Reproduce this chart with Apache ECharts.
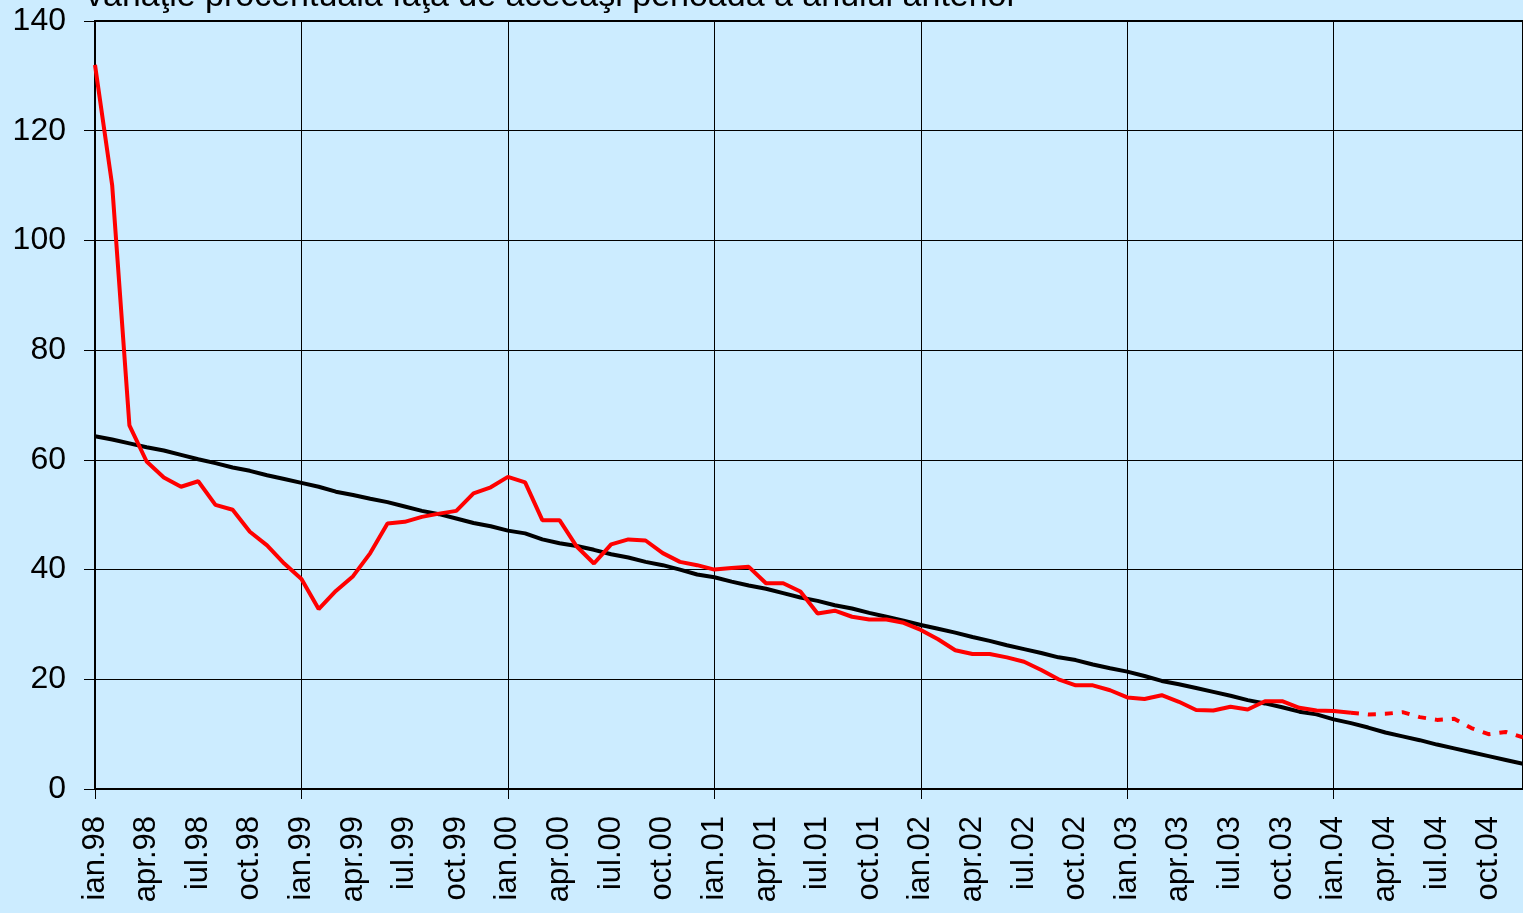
<!DOCTYPE html>
<html>
<head>
<meta charset="utf-8">
<script src="https://cdn.jsdelivr.net/npm/echarts@6/dist/echarts.min.js"></script>
<style>
  html, body { margin: 0; padding: 0; background: #ccecff; }
  #chart { width: 1523px; height: 913px; }
</style>
</head>
<body>
<div id="chart"></div>
<script>
// luni si ani pentru axa x (ian.98 - dec.04)
const monthNames = ["ian", "feb", "mar", "apr", "mai", "iun", "iul", "aug", "sep", "oct", "nov", "dec"];
const years = ["98", "99", "00", "01", "02", "03", "04"];

// rata anuala a inflatiei, realizari (ian.98 - feb.04)
const actual = [
  132.0, 110.0, 66.3, 59.7, 56.8, 55.1, 56.1, 51.8, 50.9, 46.9, 44.4, 41.1,
  38.3, 32.8, 36.1, 38.8, 43.0, 48.4, 48.7, 49.6, 50.2, 50.7, 53.9, 55.0,
  56.9, 55.9, 49.0, 49.0, 44.2, 41.1, 44.6, 45.5, 45.3, 43.0, 41.4, 40.8,
  40.0, 40.3, 40.5, 37.5, 37.5, 36.0, 32.0, 32.5, 31.4, 30.9, 30.9, 30.3,
  29.0, 27.3, 25.3, 24.6, 24.6, 24.0, 23.2, 21.7, 20.0, 18.9, 18.9, 18.0,
  16.7, 16.4, 17.1, 15.9, 14.4, 14.3, 15.0, 14.5, 16.0, 16.0, 14.8, 14.3,
  14.2, 13.9
];

// prognoza (feb.04 - dec.04)
const forecastStart = 73;
const forecast = [13.9, 13.6, 13.7, 14.0, 13.1, 12.6, 12.8, 11.1, 10.0, 10.4, 9.4];

// trend de dezinflatie
const trend = [
  64.3, 63.7, 63.0, 62.3, 61.7, 60.9, 60.1, 59.4, 58.6, 58.0, 57.2, 56.5,
  55.8, 55.1, 54.2, 53.6, 52.9, 52.3, 51.5, 50.7, 50.1, 49.3, 48.5, 47.9,
  47.1, 46.6, 45.5, 44.8, 44.3, 43.6, 42.8, 42.2, 41.4, 40.8, 40.0, 39.1,
  38.6, 37.8, 37.1, 36.5, 35.7, 34.9, 34.3, 33.5, 32.9, 32.1, 31.4, 30.7,
  29.9, 29.2, 28.5, 27.7, 27.0, 26.2, 25.5, 24.8, 24.0, 23.5, 22.7, 22.0,
  21.4, 20.6, 19.7, 19.1, 18.4, 17.7, 17.0, 16.2, 15.6, 14.9, 14.1, 13.6,
  12.7, 12.0, 11.2, 10.3, 9.6, 8.9, 8.1, 7.4, 6.7, 6.0, 5.3, 4.6
];

const yTicks = { min: 0, max: 140, interval: 20 };
const title = "variaţie procentuală faţă de aceeaşi perioadă a anului anterior";

const categories = [];
years.forEach((y) => monthNames.forEach((m) => categories.push(m + "." + y)));

const forecastData = categories.map((_, i) =>
  i >= forecastStart && i - forecastStart < forecast.length ? forecast[i - forecastStart] : null
);

const font = "'Liberation Sans', Arial, sans-serif";
const isYearStart = (index) => index % 12 === 0;

const chart = echarts.init(document.getElementById("chart"));
chart.setOption({
  backgroundColor: "#ccecff",
  animation: false,
  textStyle: { fontFamily: font },
  graphic: [
    {
      type: "text",
      left: 86,
      top: -20,
      style: { text: title, fontSize: 34, fontFamily: font, fill: "#000" },
    },
  ],
  grid: {
    left: 95,
    right: 0,
    top: 21,
    bottom: 124,
    show: true,
    borderColor: "#000",
    borderWidth: 2,
    backgroundColor: "transparent",
  },
  xAxis: {
    type: "category",
    boundaryGap: false,
    data: categories,
    axisLine: { lineStyle: { color: "#000", width: 2 } },
    axisTick: { interval: isYearStart, length: 10, lineStyle: { color: "#000", width: 1 } },
    axisLabel: {
      interval: 2,
      rotate: 90,
      margin: 27,
      fontSize: 31,
      color: "#000",
      fontFamily: font,
    },
    splitLine: { show: true, interval: isYearStart, lineStyle: { color: "#000", width: 1 } },
  },
  yAxis: {
    type: "value",
    min: yTicks.min,
    max: yTicks.max,
    interval: yTicks.interval,
    axisLine: { show: true, lineStyle: { color: "#000", width: 2 } },
    axisTick: { show: true, length: 11, lineStyle: { color: "#000", width: 1 } },
    axisLabel: { margin: 29, fontSize: 32, color: "#000", fontFamily: font },
    splitLine: { lineStyle: { color: "#000", width: 1.2 } },
  },
  series: [
    {
      name: "trend",
      type: "line",
      data: trend,
      showSymbol: false,
      lineStyle: { color: "#000", width: 4 },
      z: 3,
    },
    {
      name: "realizat",
      type: "line",
      data: actual,
      showSymbol: false,
      lineStyle: { color: "#ff0000", width: 4 },
      z: 4,
    },
    {
      name: "prognoza",
      type: "line",
      data: forecastData,
      showSymbol: false,
      lineStyle: { color: "#ff0000", width: 4, type: [8, 9], cap: "butt" },
      z: 4,
    },
  ],
});
</script>
</body>
</html>
